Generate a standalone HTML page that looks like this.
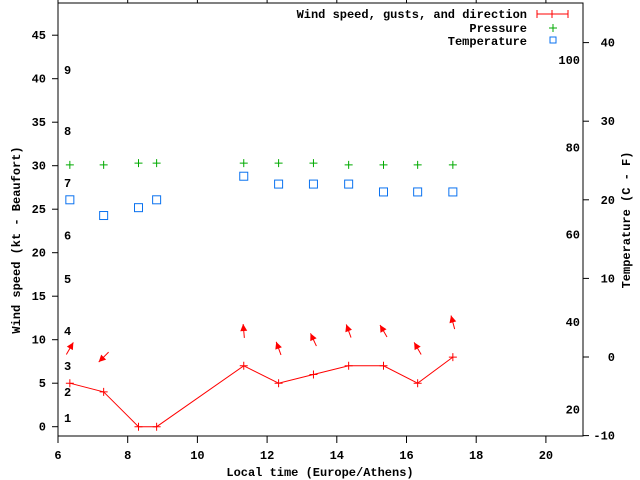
<!DOCTYPE html>
<html><head><meta charset="utf-8"><style>
body{margin:0;background:#fff}
svg{display:block;font-family:"Liberation Mono","DejaVu Sans Mono",monospace;font-size:12px;font-weight:bold}
</style></head><body>
<svg id="chart" width="640" height="480" xmlns="http://www.w3.org/2000/svg">
<g id="axes"></g>
<g id="marks"></g>
<text x="320" y="476" text-anchor="middle">Local time (Europe/Athens)</text>
<text transform="translate(20,240) rotate(-90)" text-anchor="middle">Wind speed (kt - Beaufort)</text>
<text transform="translate(630,220) rotate(-90)" text-anchor="middle">Temperature (C - F)</text>
<g>
<text x="527" y="18" text-anchor="end">Wind speed, gusts, and direction</text>
<path d="M537 14H568M537 10V18M568 10V18M552 10V18" stroke="#f00"/>
<text x="527" y="32" text-anchor="end">Pressure</text>
<path d="M549 28H557M553 24V32" stroke="#0a0"/>
<text x="527" y="45" text-anchor="end">Temperature</text>
<rect x="550" y="37" width="6" height="6" fill="none" stroke="#0a72f0"/>
</g>
</svg>
<script>
const times=[6.34,7.31,8.31,8.83,11.33,12.33,13.33,14.34,15.34,16.32,17.33];
const wind=[5,4,0,0,7,5,6,7,7,5,8];
const pressure=[30.1,30.1,30.3,30.3,30.3,30.3,30.3,30.1,30.1,30.1,30.1];
const tempC=[20,18,19,20,23,22,22,22,21,21,21];
const dirDeg=[30,225,null,null,355,340,335,340,330,330,345];
const xTicks=[6,8,10,12,14,16,18,20];
const yTicks=[0,5,10,15,20,25,30,35,40,45];
const cTicks=[-10,0,10,20,30,40];
const fTicks=[20,40,60,80,100];
const bft=[1,4,7,11,17,22,28,34,41];
const bftLabels=["1","2","3","4","5","6","7","8","9"];

const L=58,R=583,T=3,B=436;
const X=h=>L+(h-6)*34.85;
const Y=v=>426.7-v*8.7;
const YC=c=>357-c*7.86;
const NS="http://www.w3.org/2000/svg";
function mk(p,tag,at){const e=document.createElementNS(NS,tag);for(const k in at)e.setAttribute(k,at[k]);p.appendChild(e);return e;}
const ax=document.getElementById('axes'),mg=document.getElementById('marks');
let f=mk(ax,'rect',{x:L,y:T,width:R-L,height:B-T,fill:'none',stroke:'#000'});


xTicks.forEach(t=>{
 let l=mk(ax,'path',{d:`M${X(t)} ${B}v7M${X(t)} ${T}v-3`,stroke:'#000'});
 
 
 let s=mk(ax,'text',{x:X(t),y:459,'text-anchor':'middle'});s.textContent=t;
 
 
});
yTicks.forEach(t=>{
 let l=mk(ax,'path',{d:`M${L} ${Y(t)}h-6`,stroke:'#000'});
 
 
 let s=mk(ax,'text',{x:46,y:Y(t)+4,'text-anchor':'end'});s.textContent=t;
 
 
});
cTicks.forEach(t=>{
 let l=mk(ax,'path',{d:`M${R} ${YC(t)}h6`,stroke:'#000'});
 
 
 let s=mk(ax,'text',{x:615,y:YC(t)+4,'text-anchor':'end'});s.textContent=t;
 
 
});
fTicks.forEach(t=>{
 let s=mk(ax,'text',{x:580,y:YC((t-32)*5/9)+4,'text-anchor':'end'});s.textContent=t;
 
 
});
bft.forEach((k,i)=>{
 let s=mk(ax,'text',{x:64,y:Y(k)+4});s.textContent=bftLabels[i];
 
 
});
let pl=mk(mg,'polyline',{points:times.map((t,i)=>X(t)+','+Y(wind[i])).join(' '),fill:'none',stroke:'#f00'});


times.forEach((t,i)=>{
 const x=X(t);
 let w=mk(mg,'path',{d:`M${x-4} ${Y(wind[i])}h8M${x} ${Y(wind[i])-4}v8`,stroke:'#f00'});
 
 
 let p=mk(mg,'path',{d:`M${x-4} ${Y(pressure[i])}h8M${x} ${Y(pressure[i])-4}v8`,stroke:'#0a0'});
 
 
 let q=mk(mg,'rect',{x:x-4,y:YC(tempC[i])-4,width:8,height:8,fill:'none',stroke:'#0a72f0'});
 
 
 if(dirDeg[i]!==null){
  const cy=Y(wind[i]+4),a=dirDeg[i]*Math.PI/180,dx=Math.sin(a)*7,dy=-Math.cos(a)*7;
  const hx=x+dx,hy=cy+dy,ux=dx/7,uy=dy/7;
  let g=mk(mg,'g',{});
  
  
  mk(g,'line',{x1:x-dx,y1:cy-dy,x2:hx,y2:hy,stroke:'#f00'});
  mk(g,'polygon',{points:`${hx},${hy} ${hx-ux*7-uy*3.5},${hy-uy*7+ux*3.5} ${hx-ux*7+uy*3.5},${hy-uy*7-ux*3.5}`,fill:'#f00'});
 }
});
</script>
</body></html>
